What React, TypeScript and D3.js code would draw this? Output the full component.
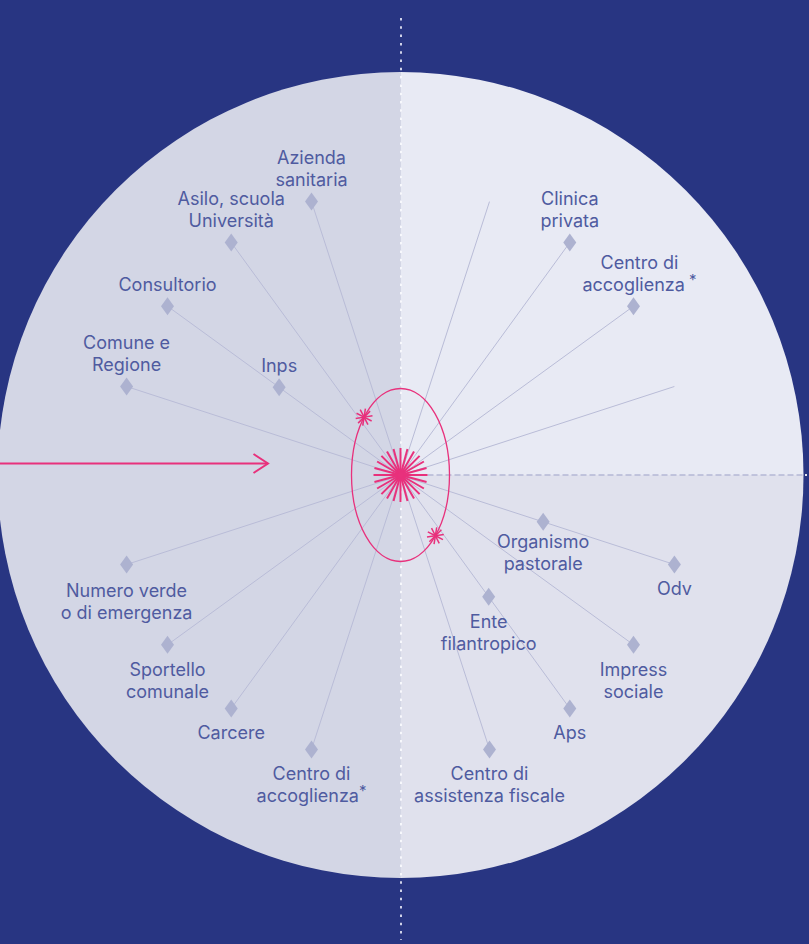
import React from "react";
import * as d3 from "d3";

// ---- data ----
const spokeAngles = [18, 36, 54, 72, 108, 126, 144, 162, 198, 216, 234, 252, 288, 306, 324, 342];

type Node = { angle: number; ring: "outer" | "inner"; lines: string[]; star?: "space" | "tight"; nudge?: [number, number] };
const nodes: Node[] = [
  { angle: 36, ring: "outer", lines: ["Clinica", "privata"] },
  { angle: 54, ring: "outer", lines: ["Centro di", "accoglienza"], star: "space", nudge: [6, 0] },
  { angle: 108, ring: "inner", lines: ["Organismo", "pastorale"], nudge: [0, -5] },
  { angle: 108, ring: "outer", lines: ["Odv"] },
  { angle: 126, ring: "outer", lines: ["Impress", "sociale"] },
  { angle: 144, ring: "inner", lines: ["Ente", "filantropico"] },
  { angle: 144, ring: "outer", lines: ["Aps"] },
  { angle: 162, ring: "outer", lines: ["Centro di", "assistenza fiscale"] },
  { angle: 198, ring: "outer", lines: ["Centro di", "accoglienza"], star: "tight" },
  { angle: 216, ring: "outer", lines: ["Carcere"] },
  { angle: 234, ring: "outer", lines: ["Sportello", "comunale"] },
  { angle: 252, ring: "outer", lines: ["Numero verde", "o di emergenza"], nudge: [0, 2] },
  { angle: 288, ring: "outer", lines: ["Comune e", "Regione"] },
  { angle: 306, ring: "outer", lines: ["Consultorio"] },
  { angle: 306, ring: "inner", lines: ["Inps"] },
  { angle: 324, ring: "outer", lines: ["Asilo, scuola", "Università"] },
  { angle: 342, ring: "outer", lines: ["Azienda", "sanitaria"] },
];

const burstRays = d3.range(24);
const smallStarRays = d3.range(10);
const smallStarParams = [222, 44.6]; // ellipse parameter angles (deg)

// ---- layout ----
const W = 809;
const H = 944;
const cx = 400.5;
const cy = 475.5;
const R = 403;
const circleCy = 475;
const axisX = 401;

const ringRadius = d3.scaleOrdinal<string, number>().domain(["inner", "outer"]).range([150, 288]);
const toRad = d3.scaleLinear().domain([0, 360]).range([0, 2 * Math.PI]);

const NAVY = "#283582";
const PINK = "#e8317c";
const SPOKE = "#b9bcd7";
const DIAMOND = "#adb2d0";
const LABEL = "#4f5ba0";

function pt(angleDeg: number, r: number): [number, number] {
  const [x, y] = d3.pointRadial(toRad(angleDeg), r);
  return [cx + x, cy + y];
}

function diamondPath(x: number, y: number) {
  const hw = 6.5, hh = 9;
  return `M${x},${y - hh}L${x + hw},${y}L${x},${y + hh}L${x - hw},${y}Z`;
}

export default function App() {
  const ellRx = 49, ellRy = 86.5;
  const ecx = 400.5, ecy = 475;
  return (
    <svg
      width={W}
      height={H}
      style={{ position: "absolute", left: 0, top: 0, display: "block" }}
      fontFamily="Inter, 'Noto Sans', sans-serif"
    >
      <defs>
        <clipPath id="circ">
          <circle cx={cx} cy={circleCy} r={R} />
        </clipPath>
      </defs>
      <rect x={0} y={0} width={W} height={H} fill={NAVY} />
      <g clipPath="url(#circ)">
        <rect x={0 - 10} y={0} width={axisX + 10} height={H} fill="#d3d6e5" />
        <rect x={axisX} y={0} width={W - axisX} height={circleCy} fill="#e8eaf4" />
        <rect x={axisX} y={circleCy} width={W - axisX} height={H - circleCy} fill="#e0e1ed" />
      </g>
      {/* vertical dotted axis */}
      <line x1={axisX} x2={axisX} y1={18} y2={940} stroke="#cfd2e8" strokeWidth={2} strokeDasharray="2.5 5.8" />
      <g clipPath="url(#circ)">
        <line x1={axisX} x2={axisX} y1={18} y2={940} stroke="#f7f8fc" strokeWidth={2} strokeDasharray="2.5 5.8" />
      </g>
      {/* horizontal dashed axis */}
      <line x1={cx} x2={803} y1={circleCy} y2={circleCy} stroke="#b4b8d5" strokeWidth={1.5} strokeDasharray="6 3" />
      <rect x={805} y={474} width={2} height={2} fill="#e3e5f1" />

      {/* spokes */}
      {spokeAngles.map((a) => {
        const [x, y] = pt(a, ringRadius("outer"));
        return <line key={a} x1={cx} y1={cy} x2={x} y2={y} stroke={SPOKE} strokeWidth={1} />;
      })}

      {/* diamonds + labels */}
      {nodes.map((n, i) => {
        const [x, y] = pt(n.angle, ringRadius(n.ring));
        const above = n.angle < 90 || n.angle > 270;
        const lh = 22;
        const [nx, ny] = n.nudge ?? [0, 0];
        const baseY = (above ? y - 15.5 - (n.lines.length - 1) * lh : y + 31) + ny;
        return (
          <g key={i}>
            <path d={diamondPath(x, y)} fill={DIAMOND} />
            <text textAnchor="middle" fontSize={18} fill={LABEL}>
              {n.lines.map((l, j) => {
                const last = j === n.lines.length - 1;
                return (
                  <tspan key={j} x={x + nx} y={baseY + j * lh}>
                    {l}
                    {last && n.star ? (
                      <tspan fontSize={15} dy={-6}>
                        {n.star === "space" ? " *" : "*"}
                      </tspan>
                    ) : null}
                  </tspan>
                );
              })}
            </text>
          </g>
        );
      })}

      {/* magenta ellipse */}
      <ellipse cx={ecx} cy={ecy} rx={ellRx} ry={ellRy} fill="none" stroke={PINK} strokeWidth={1.3} />

      {/* center burst */}
      {burstRays.map((i) => {
        const [x, y] = pt((i * 360) / burstRays.length, 27);
        return <line key={i} x1={cx} y1={circleCy} x2={x} y2={y - 0.5} stroke={PINK} strokeWidth={2} />;
      })}
      <circle cx={cx} cy={circleCy} r={3} fill={PINK} />

      {/* small stars on ellipse */}
      {smallStarParams.map((t, k) => {
        const sx = ecx + ellRx * Math.cos((t * Math.PI) / 180);
        const sy = ecy + ellRy * Math.sin((t * Math.PI) / 180);
        return (
          <g key={k}>
            {smallStarRays.map((i) => {
              const [dx, dy] = d3.pointRadial(toRad((i * 360) / smallStarRays.length + 9), 8.5);
              return <line key={i} x1={sx} y1={sy} x2={sx + dx} y2={sy + dy} stroke={PINK} strokeWidth={1.5} />;
            })}
            <circle cx={sx} cy={sy} r={1.5} fill={PINK} />
          </g>
        );
      })}

      {/* arrow from left */}
      <line x1={0} x2={268} y1={463.5} y2={463.5} stroke={PINK} strokeWidth={2} />
      <path d="M253.5,454 L268,463.5 L253.5,473" fill="none" stroke={PINK} strokeWidth={2} />
    </svg>
  );
}
